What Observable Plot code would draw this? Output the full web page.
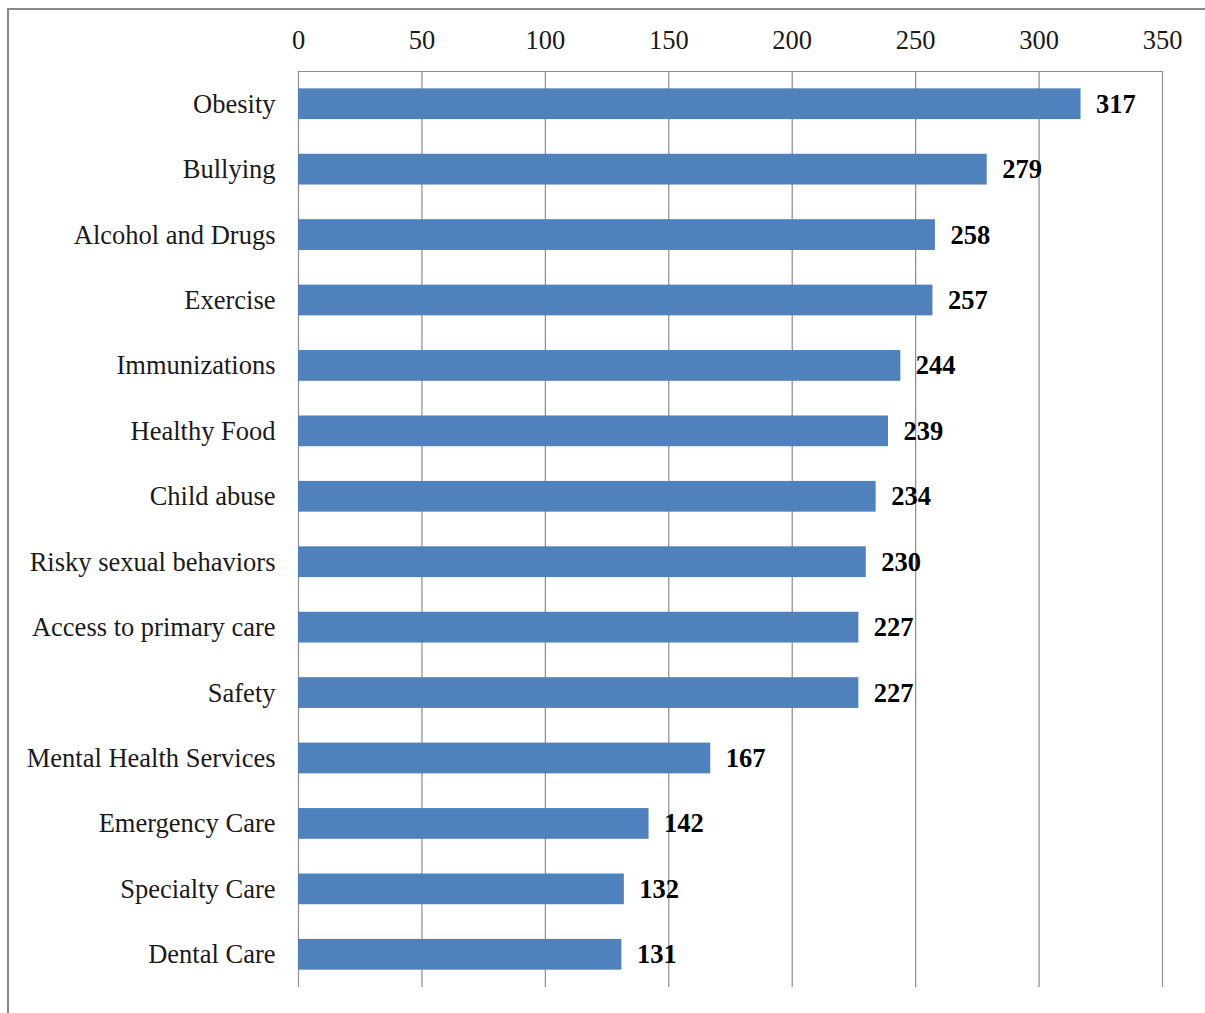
<!DOCTYPE html>
<html>
<head>
<meta charset="utf-8">
<script src="https://cdn.jsdelivr.net/npm/d3@7"></script>
<script src="https://cdn.jsdelivr.net/npm/@observablehq/plot@0.6"></script>
<style>
  html, body { margin: 0; padding: 0; background: #fff; overflow: hidden; }
  #wrap { position: relative; width: 1205px; height: 1013px; }
  #frame { position: absolute; left: 7px; top: 8px; width: 1210px; height: 1020px; border-left: 2px solid #8a8a8a; border-top: 2px solid #8a8a8a; box-sizing: border-box; pointer-events: none; }
  #chart { position: absolute; left: 0; top: 0; }
</style>
</head>
<body>
<div id="wrap"><div id="chart"></div><div id="frame"></div></div>
<script>
const categories = ["Obesity", "Bullying", "Alcohol and Drugs", "Exercise", "Immunizations", "Healthy Food", "Child abuse", "Risky sexual behaviors", "Access to primary care", "Safety", "Mental Health Services", "Emergency Care", "Specialty Care", "Dental Care"];
const values = [317, 279, 258, 257, 244, 239, 234, 230, 227, 227, 167, 142, 132, 131];
const xTicks = [0, 50, 100, 150, 200, 250, 300, 350];

const data = categories.map((c, i) => ({category: c, value: values[i]}));

const chart = Plot.plot({
  width: 1205,
  height: 1013,
  marginLeft: 298,
  marginRight: 43,
  marginTop: 71,
  marginBottom: 26,
  style: {fontFamily: "'Liberation Serif', 'Times New Roman', serif", fontSize: "26.5px", color: "#000", background: "transparent"},
  x: {domain: [0, 350], ticks: xTicks, axis: null},
  y: {domain: categories, paddingInner: 0.53, paddingOuter: 0.265, round: false, axis: null},
  marks: [
    Plot.ruleX(xTicks, {stroke: "#8c8c8c", strokeWidth: 1.2, strokeOpacity: 1}),
    Plot.frame({anchor: "top", stroke: "#8c8c8c", strokeWidth: 1.2, strokeOpacity: 1}),
    Plot.axisX({anchor: "top", ticks: xTicks, tickSize: 0, tickPadding: 23, fontSize: 26.5, fill: "#1a1a1a", label: null}),
    Plot.axisY({anchor: "left", tickSize: 0, tickPadding: 23, fontSize: 26.5, fill: "#1a1a1a", label: null}),
    Plot.barX(data, {x: "value", y: "category", fill: "#4F81BD"}),
    Plot.text(data, {x: "value", y: "category", text: d => String(d.value), textAnchor: "start", dx: 15, fontWeight: "bold", fontSize: 26.5, fill: "#000"})
  ]
});
document.getElementById("chart").appendChild(chart);
</script>
</body>
</html>
